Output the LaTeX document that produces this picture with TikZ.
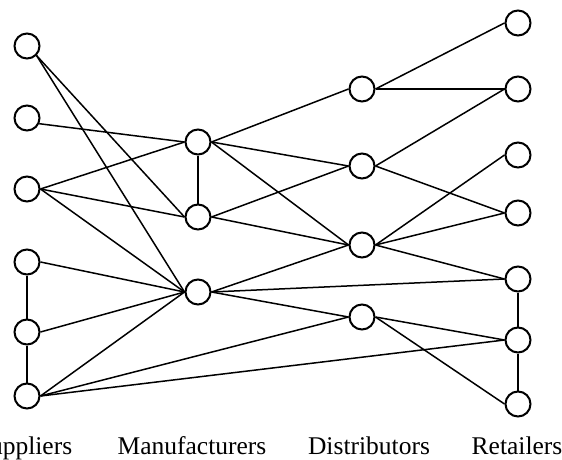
\documentclass[tikz,border=0pt]{standalone}
\usepackage{fontspec}
\setmainfont{Liberation Serif}
\begin{document}
\begin{tikzpicture}[x=1pt, y=-1pt,
  knoten/.style={circle, draw, line width=2pt, minimum size=25pt, inner sep=0pt},
  kante/.style={line width=1.5pt},
  stufe/.style={anchor=base, font=\fontsize{25.5}{30}\selectfont}]
\useasboundingbox (0, 0) rectangle (562, 460);
% Lieferanten
\node[knoten] (Sup1) at (27, 46) {};
\node[knoten] (Sup2) at (27, 118) {};
\node[knoten] (Sup3) at (27, 189) {};
\node[knoten] (Sup4) at (27, 262) {};
\node[knoten] (Sup5) at (27, 332) {};
\node[knoten] (Sup6) at (27, 396) {};
% Hersteller
\node[knoten] (Man1) at (198, 142) {};
\node[knoten] (Man2) at (198, 217) {};
\node[knoten] (Man3) at (198, 292) {};
% Distributoren
\node[knoten] (Dis1) at (362, 89) {};
\node[knoten] (Dis2) at (362, 166) {};
\node[knoten] (Dis3) at (362, 245) {};
\node[knoten] (Dis4) at (362, 317) {};
% Haendler
\node[knoten] (Ret1) at (518, 23) {};
\node[knoten] (Ret2) at (518, 89) {};
\node[knoten] (Ret3) at (518, 155) {};
\node[knoten] (Ret4) at (518, 213) {};
\node[knoten] (Ret5) at (518, 279) {};
\node[knoten] (Ret6) at (518, 340) {};
\node[knoten] (Ret7) at (518, 404) {};

\node[stufe] (Lab1) at (24, 454) {Suppliers};
\node[stufe] (Lab2) at (192, 454) {Manufacturers};
\node[stufe] (Lab3) at (369, 454) {Distributors};
\node[stufe] (Lab4) at (517, 454) {Retailers};

\draw[kante] (Sup1.south east) -- (Man2.west);
\draw[kante] (Sup1.south east) -- (Man3.west);
\draw[kante] (Sup2.-25) -- (Man1.west);
\draw[kante] (Sup3.east) -- (Man1.west);
\draw[kante] (Sup3.east) -- (Man2.west);
\draw[kante] (Sup3.east) -- (Man3.west);
\draw[kante] (Sup4.east) -- (Man3.west);
\draw[kante] (Sup5.east) -- (Man3.west);
\draw[kante] (Sup6.east) -- (Man3.west);
\draw[kante] (Sup6.east) -- (Dis4.west);
\draw[kante] (Sup6.east) -- (Ret6.west);
\draw[kante] (Sup4) -- (Sup5);
\draw[kante] (Sup5) -- (Sup6);

\draw[kante] (Man1) -- (Man2);
\draw[kante] (Man1.east) -- (Dis1.west);
\draw[kante] (Man1.east) -- (Dis2.west);
\draw[kante] (Man1.east) -- (Dis3.west);
\draw[kante] (Man2.east) -- (Dis2.west);
\draw[kante] (Man2.east) -- (Dis3.west);
\draw[kante] (Man3.east) -- (Dis3.west);
\draw[kante] (Man3.east) -- (Ret5.west);
\draw[kante] (Man3.east) -- (Dis4.west);

\draw[kante] (Dis1.east) -- (Ret1.west);
\draw[kante] (Dis1.east) -- (Ret2.west);
\draw[kante] (Dis2.east) -- (Ret2.west);
\draw[kante] (Dis2.east) -- (Ret4.west);
\draw[kante] (Dis3.east) -- (Ret3.west);
\draw[kante] (Dis3.east) -- (Ret4.west);
\draw[kante] (Dis3.east) -- (Ret5.west);
\draw[kante] (Dis4.east) -- (Ret6.west);
\draw[kante] (Dis4.east) -- (Ret7.west);
\draw[kante] (Ret5) -- (Ret6);
\draw[kante] (Ret6) -- (Ret7);
\end{tikzpicture}
\end{document}
